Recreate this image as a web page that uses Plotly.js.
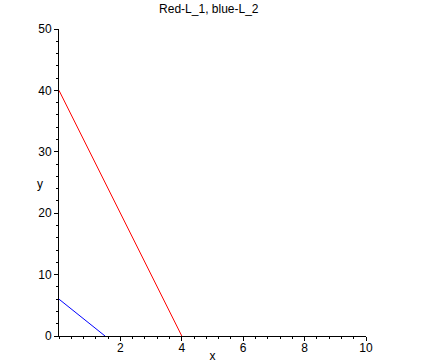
<!DOCTYPE html>
<html>
<head>
<meta charset="utf-8">
<script src="https://cdn.plot.ly/plotly-3.0.1.min.js"></script>
<style>html,body{margin:0;padding:0;background:#fff;}#chart{width:421px;height:363px;}</style>
</head>
<body>
<div id="chart"></div>
<script>
// Data
var l1X = [0, 4];      // Red: L_1
var l1Y = [40, 0];
var l2X = [0, 1.5];    // Blue: L_2
var l2Y = [6, 0];
var xTickVals = [2, 4, 6, 8, 10];
var yTickVals = [0, 10, 20, 30, 40, 50];
var titleText = 'Red-L_1, blue-L_2';

var font = {family: '"Liberation Sans", Arial, sans-serif', size: 12, color: '#000'};

var traces = [
  {x: l1X, y: l1Y, type: 'scatter', mode: 'lines', line: {color: '#ff0000', width: 1}, name: 'L_1', hoverinfo: 'x+y'},
  {x: l2X, y: l2Y, type: 'scatter', mode: 'lines', line: {color: '#0000ff', width: 1}, name: 'L_2', hoverinfo: 'x+y'}
];

var layout = {
  width: 421, height: 363,
  margin: {l: 59, r: 55, t: 29, b: 27, pad: 0},
  paper_bgcolor: '#fff', plot_bgcolor: '#fff',
  showlegend: false,
  font: font,
  title: {text: titleText, font: font, x: 0.488, xref: 'paper', xanchor: 'center', y: 0.975, yref: 'container', yanchor: 'middle'},
  xaxis: {
    range: [0, 10], tickvals: xTickVals, ticktext: xTickVals.map(String),
    showline: true, linecolor: '#000', linewidth: 1, showgrid: false, zeroline: false,
    ticks: 'outside', ticklen: 4, tickcolor: '#000', tickwidth: 1,
    ticklabelstandoff: -3,
    minor: {dtick: 0.4, tick0: 0, ticks: 'outside', ticklen: 2, tickcolor: '#000', showgrid: false},
    tickfont: font, fixedrange: true,
    title: {text: 'x', font: font, standoff: 0}
  },
  yaxis: {
    range: [0, 50], tickvals: yTickVals, ticktext: yTickVals.map(String),
    showline: true, linecolor: '#000', linewidth: 1, showgrid: false, zeroline: false,
    ticks: 'outside', ticklen: 4, tickcolor: '#000', tickwidth: 1,
    minor: {dtick: 2, tick0: 0, ticks: 'outside', ticklen: 2, tickcolor: '#000', showgrid: false},
    tickfont: font, fixedrange: true
  },
  annotations: [
    {text: 'y', xref: 'paper', yref: 'y', x: -0.063, y: 24.8, showarrow: false, font: font, xanchor: 'center', yanchor: 'middle'}
  ]
};

Plotly.newPlot('chart', traces, layout, {displayModeBar: false, staticPlot: true});
</script>
</body>
</html>
